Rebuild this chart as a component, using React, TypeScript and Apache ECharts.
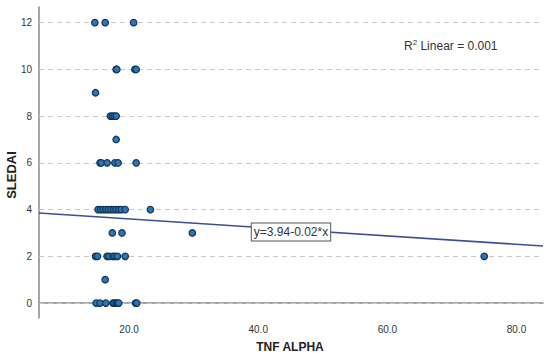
import React, { useEffect, useRef } from "react";
import * as echarts from "echarts";

// TNF ALPHA (x) and SLEDAI (y) observations
const tnfAlpha: number[] = [
  14.7, 16.3, 20.7,
  18.0, 18.1, 20.9, 21.1,
  14.8,
  17.1, 17.4, 17.7, 18.0,
  18.0,
  15.5, 15.7, 16.6, 17.8, 18.3, 21.1,
  15.2, 15.6, 16.0, 16.4, 16.8, 17.2, 17.6, 18.0, 18.4, 18.8, 19.4, 23.3,
  17.4, 18.9, 29.8,
  14.8, 15.1, 16.6, 16.9, 17.5, 17.8, 18.2, 19.4, 75.0,
  16.3,
  14.9, 15.5, 16.4, 17.5, 17.7, 18.0, 18.2, 18.4, 21.0, 21.2,
];
const sledai: number[] = [
  12, 12, 12,
  10, 10, 10, 10,
  9,
  8, 8, 8, 8,
  7,
  6, 6, 6, 6, 6, 6,
  4, 4, 4, 4, 4, 4, 4, 4, 4, 4, 4, 4,
  3, 3, 3,
  2, 2, 2, 2, 2, 2, 2, 2, 2,
  1,
  0, 0, 0, 0, 0, 0, 0, 0, 0, 0,
];

// fit line end points
const fitX: number[] = [6.05, 84.1];
const fitY: number[] = [3.85, 2.44];

const yTicks: number[] = [0, 2, 4, 6, 8, 10, 12];
const xTicks: number[] = [20, 40, 60, 80];

const xRange: number[] = [6.05, 84.1];
const yRange: number[] = [-0.64, 12.67];

const equationText = "y=3.94-0.02*x";
const r2Value = "0.001";

export default function App() {
  const ref = useRef<HTMLDivElement>(null);
  useEffect(() => {
    if (!ref.current) return;
    const chart = echarts.init(ref.current, undefined, { renderer: "svg" });
    const font = "'Liberation Sans', Arial, sans-serif";
    chart.setOption({
      animation: false,
      backgroundColor: "#ffffff",
      grid: { left: 39, right: 7, top: 7, bottom: 40, containLabel: false },
      xAxis: {
        type: "value",
        min: xRange[0],
        max: xRange[1],
        splitNumber: 4,
        axisLine: { show: true, lineStyle: { color: "#888888", width: 1.5 } },
        axisTick: { show: false },
        splitLine: { show: false },
        axisLabel: {
          color: "#333",
          fontSize: 10,
          fontFamily: font,
          margin: 6,
          formatter: (v: number) => (xTicks.indexOf(Math.round(v)) >= 0 && Math.abs(v - Math.round(v)) < 1e-6 ? v.toFixed(1) : ""),
        },
      },
      yAxis: {
        type: "value",
        min: yRange[0],
        max: yRange[1],
        splitNumber: 6,
        axisLine: { show: true, lineStyle: { color: "#888888", width: 1.5 } },
        axisTick: { show: false },
        splitLine: { show: false },
        axisLabel: {
          color: "#333",
          fontSize: 10,
          fontFamily: font,
          margin: 7,
          formatter: (v: number) => (yTicks.indexOf(v) >= 0 ? String(v) : ""),
        },
      },
      series: [
        {
          type: "scatter",
          data: tnfAlpha.map((x, i) => [x, sledai[i]]),
          symbolSize: 6.5,
          itemStyle: { color: "#2a76b8", borderColor: "#143453", borderWidth: 1.2, opacity: 1 },
          markLine: {
            silent: true,
            symbol: "none",
            label: { show: false },
            lineStyle: { color: "#c8c8c8", type: [5, 4], width: 1 },
            data: yTicks.map((v) => ({ yAxis: v })),
            z: 1,
          },
          z: 3,
        },
        {
          type: "line",
          data: fitX.map((x, i) => [x, fitY[i]]),
          showSymbol: false,
          symbol: "none",
          lineStyle: { color: "#3a4f95", width: 1.5 },
          z: 2,
        },
      ],
      graphic: [
        {
          type: "text",
          x: 11,
          y: 175,
          rotation: Math.PI / 2,
          style: {
            text: "SLEDAI",
            fontSize: 13,
            fontWeight: "bold",
            fontFamily: font,
            fill: "#222",
            align: "center",
            verticalAlign: "middle",
          },
        },
        {
          type: "text",
          x: 290,
          y: 347,
          style: {
            text: "TNF ALPHA",
            fontSize: 12,
            fontWeight: "bold",
            fontFamily: font,
            fill: "#222",
            align: "center",
            verticalAlign: "middle",
          },
        },
        {
          type: "text",
          x: 404,
          y: 46,
          style: {
            text: "{r|R}{sup|2}{r| Linear = " + r2Value + "}",
            fontFamily: font,
            fill: "#333",
            align: "left",
            verticalAlign: "middle",
            rich: {
              r: { fontSize: 12, fontFamily: font, fill: "#333", color: "#333" },
              sup: { fontSize: 8, fontFamily: font, fill: "#333", color: "#333", verticalAlign: "top", padding: [0, 0, 8, 0] },
            },
          },
        },
        {
          type: "text",
          x: 291,
          y: 232,
          z: 10,
          style: {
            text: equationText,
            fontSize: 12,
            fontFamily: font,
            fill: "#333",
            align: "center",
            verticalAlign: "middle",
            backgroundColor: "#ffffff",
            borderColor: "#555",
            borderWidth: 1,
            padding: [3, 2, 2, 2],
          },
        },
      ],
    });
    return () => chart.dispose();
  }, []);
  return <div ref={ref} style={{ position: "fixed", left: 0, top: 0, width: 550, height: 358 }} />;
}
